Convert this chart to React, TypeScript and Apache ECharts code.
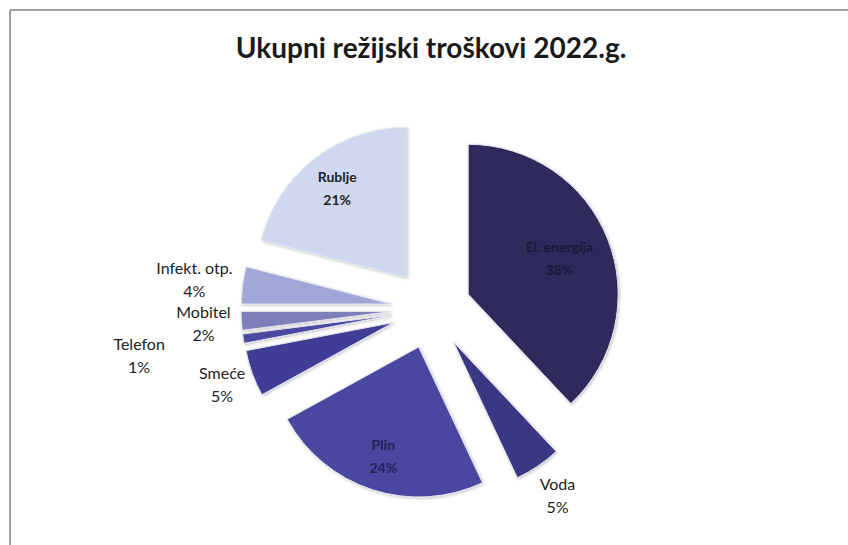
import React, { useEffect, useRef } from "react";
import * as echarts from "echarts";

const chartTitle = "Ukupni režijski troškovi 2022.g.";
const categories = ["El. energija", "Voda", "Plin", "Smeće", "Telefon", "Mobitel", "Infekt. otp.", "Rublje"];
const shares = [38, 5, 24, 5, 1, 2, 4, 21];
const sliceColors = ["#2e2a5c", "#3b3883", "#4a479f", "#403e97", "#4b49a2", "#7d7fbb", "#a0a7d6", "#cfd8ef"];
// label distance from pie centre, as a multiple of the radius (layout, not data)
const labelRadiusFactor = [0.92, 1.5, 1.03, 1.48, 1.97, 1.52, 1.59, 1.02];
const insideLabel = [true, false, true, false, false, false, false, true];
const labelColors = ["#1a1838", "#222222", "#22205a", "#222222", "#222222", "#222222", "#222222", "#222222"];

const CX = 431;
const CY = 309;
const R = 150;
const EXPLODE = 40;
const FONT = "Lato, 'Open Sans', sans-serif";

export default function App() {
  const ref = useRef<HTMLDivElement>(null);
  useEffect(() => {
    document.documentElement.style.overflow = "hidden";
    document.body.style.margin = "0";
    document.body.style.overflow = "hidden";
    const chart = echarts.init(ref.current!, null, { renderer: "svg" });
    const total = shares.reduce((a, b) => a + b, 0);
    const styleOf = (i: number) => ({
      color: sliceColors[i],
      borderColor: "#e4e4ee",
      borderWidth: 1,
      shadowBlur: 3,
      shadowColor: "rgba(0,0,0,0.25)",
      shadowOffsetX: 1,
      shadowOffsetY: 1,
    });
    const sliceData = categories.map((name, i) => ({
      name,
      value: shares[i],
      selected: true,
      itemStyle: styleOf(i),
      select: { itemStyle: styleOf(i) },
    }));
    // labels follow the same angular layout as the pie (start at 12 o'clock, clockwise)
    let cum = 0;
    const labelTexts = categories.map((name, i) => {
      const a = ((cum + shares[i] / 2) / total) * Math.PI * 2;
      cum += shares[i];
      const d = labelRadiusFactor[i] * R;
      const pct = Math.round((shares[i] / total) * 100);
      return {
        type: "text",
        x: CX + d * Math.sin(a),
        y: CY - d * Math.cos(a),
        z: 10,
        silent: true,
        style: {
          text: `${name}\n${pct}%`,
          fill: labelColors[i],
          font: `${insideLabel[i] ? "bold 14px" : "normal 16px"} ${FONT}`,
          lineHeight: 23,
          align: "center",
          verticalAlign: "middle",
        },
      };
    });
    chart.setOption({
      animation: false,
      backgroundColor: "#ffffff",
      tooltip: { show: false },
      graphic: [
        { type: "line", shape: { x1: 10, y1: 10, x2: 848, y2: 10 }, style: { stroke: "#a0a0a0", lineWidth: 2 } },
        { type: "line", shape: { x1: 10, y1: 10, x2: 10, y2: 545 }, style: { stroke: "#a0a0a0", lineWidth: 2 } },
        {
          type: "text",
          x: CX,
          y: 47,
          style: {
            text: chartTitle,
            fill: "#1a1a1a",
            font: `bold 28px ${FONT}`,
            align: "center",
            verticalAlign: "middle",
          },
        },
        ...labelTexts,
      ],
      series: [
        {
          type: "pie",
          center: [CX, CY],
          radius: [0, R],
          startAngle: 90,
          clockwise: true,
          selectedMode: "multiple",
          selectedOffset: EXPLODE,
          avoidLabelOverlap: false,
          emphasis: { disabled: true },
          label: { show: false },
          labelLine: { show: false },
          data: sliceData,
        },
      ],
    });
    return () => chart.dispose();
  }, []);
  return <div ref={ref} style={{ width: 848, height: 545, overflow: "hidden" }} />;
}
